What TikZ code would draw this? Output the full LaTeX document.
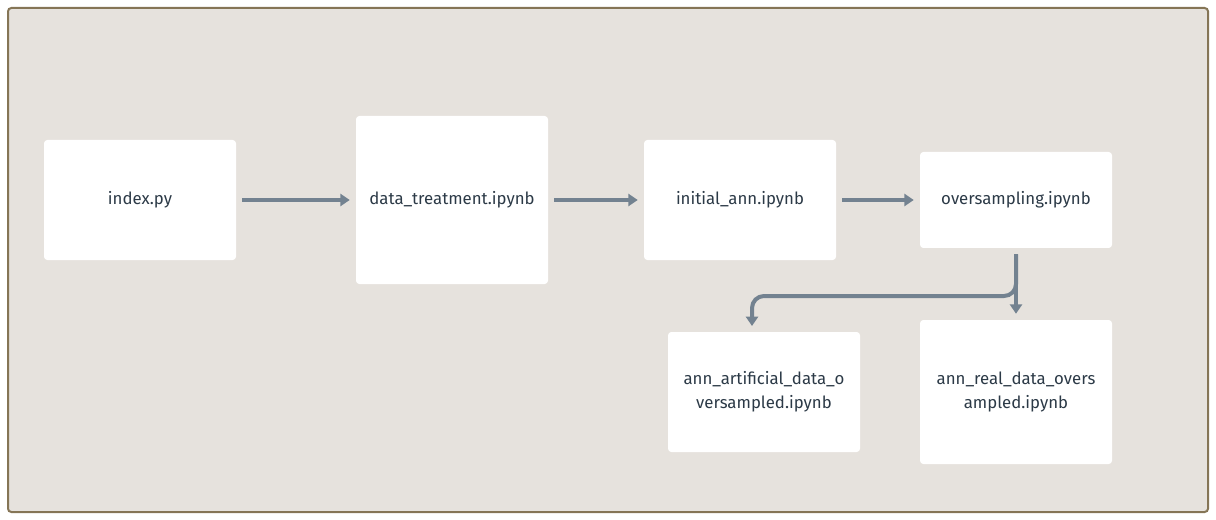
\documentclass[tikz,border=0pt]{standalone}
\usepackage{fontspec}
\setmainfont{Fira Sans}
\usetikzlibrary{arrows.meta}
\definecolor{framecol}{HTML}{857556}
\definecolor{bgcol}{HTML}{E6E2DD}
\definecolor{arrcol}{HTML}{738290}
\definecolor{txtcol}{HTML}{2C3A47}
\begin{document}
\begin{tikzpicture}[x=0.75pt,y=-0.75pt,
  filebox/.style={fill=white, rounded corners=2.5pt, inner sep=0pt, text=txtcol,
    font=\fontsize{12.6pt}{18pt}\selectfont, align=center},
  arr/.style={draw=arrcol, line width=3pt, -{Triangle[width=9pt,length=7pt]}}]
\useasboundingbox (0,0) rectangle (1216,520);
\draw[framecol, fill=bgcol, line width=1.5pt, rounded corners=2.5pt] (8,8) rectangle (1208,512);
\node[filebox, minimum width=144pt, minimum height=90pt] (idx) at (140,200) {index.py};
\node[filebox, minimum width=144pt, minimum height=126pt] (dt) at (452,200) {data\_treatment.ipynb};
\node[filebox, minimum width=144pt, minimum height=90pt] (ia) at (740,200) {initial\_ann.ipynb};
\node[filebox, minimum width=144pt, minimum height=72pt] (os) at (1016,200) {oversampling.ipynb};
\node[filebox, minimum width=144pt, minimum height=90pt] (aa) at (764,392) {ann\_artificial\_data\_o\\versampled.ipynb};
\node[filebox, minimum width=144pt, minimum height=108pt] (ar) at (1016,392) {ann\_real\_data\_overs\\ampled.ipynb};
\draw[arr] ([xshift=4.5pt]idx.east) -- ([xshift=-4.5pt]dt.west);
\draw[arr] ([xshift=4.5pt]dt.east) -- ([xshift=-4.5pt]ia.west);
\draw[arr] ([xshift=4.5pt]ia.east) -- ([xshift=-4.5pt]os.west);
\coordinate (s) at ([yshift=-4.5pt]os.south);
\coordinate (b1) at (1016,296);
\coordinate (b2) at (752,296);
\coordinate (t2) at (752,326);
\draw[arr] (s) -- ([yshift=4.5pt]ar.north);
\draw[arr, rounded corners=9pt] (s) -- (b1) -- (b2) -- (t2);
\end{tikzpicture}
\end{document}
